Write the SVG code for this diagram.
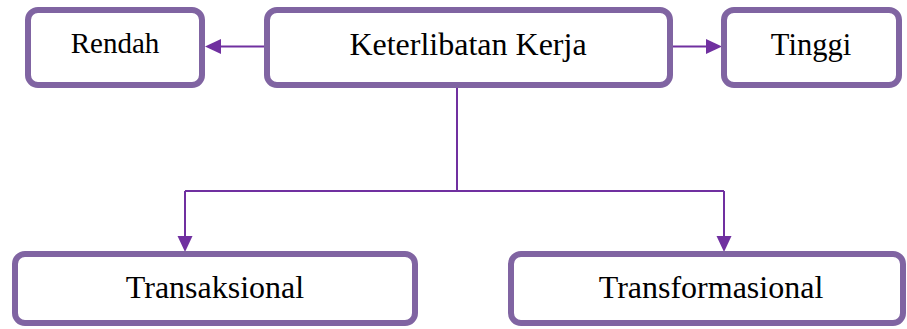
<svg xmlns="http://www.w3.org/2000/svg" width="907" height="329" viewBox="0 0 907 329">
  <style>
    .box { fill: #ffffff; stroke: #8064A2; stroke-width: 6; }
    .label { font-family: "Liberation Serif", "Times New Roman", serif; fill: #000000; text-anchor: middle; }
    .link { fill: none; stroke: #7030A0; stroke-width: 2; }
    .head { fill: #7030A0; }
  </style>
  <rect width="907" height="329" fill="#ffffff"/>

  <!-- connectors: lines plus filled triangular heads -->
  <g id="connectors">
    <line class="link" x1="267" y1="46.5" x2="219" y2="46.5"/>
    <path class="head" d="M205,46.5 L221,39 L221,54 z"/>
    <line class="link" x1="670" y1="46.5" x2="708" y2="46.5"/>
    <path class="head" d="M722,46.5 L706,39 L706,54 z"/>
    <path class="link" d="M457,88 V191 M185,191 H724 M185,191 V237 M724,191 V237"/>
    <path class="head" d="M185,252 L177.5,236 L192.5,236 z"/>
    <path class="head" d="M724,252 L716.5,236 L731.5,236 z"/>
  </g>

  <g id="node-rendah">
    <rect class="box" x="28" y="10" width="174" height="75" rx="10"/>
    <text class="label" x="115" y="53" font-size="29">Rendah</text>
  </g>
  <g id="node-keterlibatan">
    <rect class="box" x="267" y="10" width="403" height="75" rx="10"/>
    <text class="label" x="468" y="55" font-size="32">Keterlibatan Kerja</text>
  </g>
  <g id="node-tinggi">
    <rect class="box" x="724" y="10" width="175" height="75" rx="10"/>
    <text class="label" x="811" y="55" font-size="30.5">Tinggi</text>
  </g>
  <g id="node-transaksional">
    <rect class="box" x="15" y="254" width="400" height="69" rx="10"/>
    <text class="label" x="215" y="298" font-size="32">Transaksional</text>
  </g>
  <g id="node-transformasional">
    <rect class="box" x="511" y="254" width="392" height="69" rx="10"/>
    <text class="label" x="711" y="298" font-size="32">Transformasional</text>
  </g>
</svg>
